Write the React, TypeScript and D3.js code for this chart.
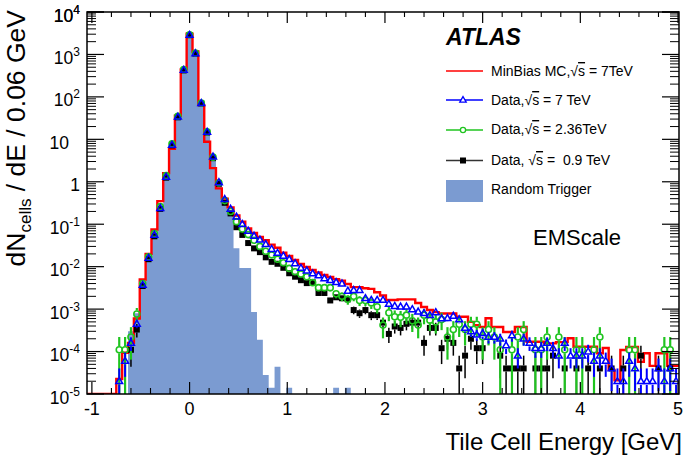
import React from 'react';
import * as d3 from 'd3';

const N = null;
// bin centres: 0.06 GeV bins from -1.02 to 4.98 GeV
const BIN_START = -1.02;
const BIN_WIDTH = 0.06;
const NBINS = 101;
const binCenters = d3.range(NBINS).map((i) => +(BIN_START + i * BIN_WIDTH).toFixed(2));

const mcMinBias7: (number | null)[] = [
  N, N, N, N, N, 2.25e-5, 9.4e-5, 1.6e-4, 6e-4, 5e-3,
  0.02, 0.075, 0.35, 1.6, 6, 36, 445, 3100, 1170, 64,
  8.8, 2.1, 0.7, 0.4, 0.25, 0.16, 0.115, 0.08, 0.062, 0.05,
  0.042, 0.033, 0.028, 0.0213, 0.0178, 0.0144, 0.0116, 0.0098, 0.0084, 0.0073,
  0.0064, 0.0057, 0.0051, 0.0047, 0.0039, 0.0033, 0.0033, 0.0031, 0.003, 0.0025,
  0.0021, 0.00164, 0.00164, 0.0017, 0.0017, 0.0017, 0.00139, 0.00112, 0.00095, 0.00085,
  0.00079, 0.00079, 0.00079, 0.00066, 0.00066, 0.0005, 0.00042, 0.00038, 0.00061, 0.00038,
  0.00038, 0.00029, 0.00029, 0.00038, 0.00038, 0.00017, 0.00017, 0.00017, 0.000156, 0.000156,
  0.000167, 0.000167, 0.000205, 0.00013, 0.00013, 0.00013, 0.00013, 9.1e-5, 0.000121, 3.7e-5,
  2.1e-5, 0.000109, 0.000128, 0.000128, 5.7e-5, 9.1e-5, 4.6e-5, 9.1e-5, 9.1e-5, 4.6e-5,
  4.6e-5,
];

const data7TeV: (number | null)[] = [
  N, N, N, N, N, 2e-5, 6e-5, 1.6e-4, 4.5e-4, 3.7e-3,
  0.016, 0.056, 0.24, 1.3, 7.4, 34, 430, 2870, 1060, 71,
  15, 3.9, 0.97, 0.39, 0.23, 0.15, 0.1, 0.07, 0.053, 0.043,
  0.034, 0.026, 0.021, 0.018, 0.015, 0.012, 0.0093, 0.0081, 0.0069, 0.0062,
  0.0053, 0.0048, 0.0043, 0.004, 0.0027, 0.0028, 0.0028, 0.0018, 0.00164, 0.00164,
  0.00164, 0.00132, 0.00118, 0.00114, 0.00114, 0.00099, 0.00087, 0.0008, 0.00072, 0.00084,
  0.0006, 0.00061, 0.00069, 0.00057, 0.00036, 0.0003, 0.00025, 0.00027, 0.00022, 0.00022,
  0.0002, 0.00014, 0.00024, 8e-5, 0.0002, 0.00016, 0.00012, 0.00012, 0.00016, 0.00012,
  8e-5, 0.00016, 8e-5, 8e-5, 8e-5, 1e-4, 6e-5, 8e-5, 6e-5, 4e-5,
  2e-5, 2e-5, 6e-5, 4e-5, 2e-5, 2e-5, 2e-5, 4e-5, 2e-5, 4e-5,
  2e-5,
];

const data236TeV: (number | null)[] = [
  N, N, N, N, N, 1.1e-4, 1.1e-4, 2.2e-4, 7.7e-4, 4e-3,
  0.017, 0.06, 0.26, 1.4, 7.8, 35, 440, 2900, 1080, 72,
  15, 3.8, 0.95, 0.36, 0.2, 0.115, 0.077, 0.057, 0.042, 0.03,
  0.023, 0.019, 0.015, 0.0124, 0.0091, 0.0076, 0.0067, 0.0058, 0.0042, 0.0032,
  0.0032, 0.0032, 0.0023, 0.002, 0.0017, 0.002, 0.0016, 0.0016, 0.0014, 0.00114,
  0.00042, 0.00082, 0.00066, 0.00064, 0.00072, 0.00053, 0.00042, 0.00072, 0.00055, 0.0005,
  0.00057, 0.00022, 0.00033, 0.00044, 0.00033, 0.00044, 0.00044, 0.00022, 0.00033, 0.00022,
  0.00011, N, 0.00011, 0.00022, 0.00033, N, 0.00011, 0.00011, 0.00022, N,
  0.00022, 0.00011, N, 0.00011, 0.00011, N, 0.00011, 0.00022, N, N,
  N, N, 0.00011, 0.00011, N, N, N, N, 0.00011, 0.00011,
  N,
];

const data09TeV: (number | null)[] = [
  N, N, N, N, N, N, N, 1.1e-4, 3.3e-4, 3.5e-3,
  0.015, 0.052, 0.23, 1.25, 7.2, 33, 420, 2850, 1040, 70,
  14.5, 3.6, 0.9, 0.32, 0.18, 0.085, 0.056, 0.036, 0.027, 0.022,
  0.0166, 0.013, 0.0117, 0.0094, 0.007, 0.0058, 0.0048, 0.0041, 0.0043, 0.0024,
  0.0024, 0.0016, 0.0019, 0.0018, 0.0017, 0.00095, 0.0008, 0.00095, 0.00072, 0.00072,
  0.00048, 0.00026, 0.00039, 0.00036, 0.00045, 0.00048, 0.00048, 0.00016, 0.00036, 0.00036,
  0.00012, 0.0002, 0.00016, 4e-5, 8e-5, 0.0002, 0.00012, 0.00012, N, N,
  8e-5, 4e-5, 4e-5, 4e-5, 4e-5, N, 4e-5, 4e-5, 4e-5, 8e-5,
  N, 4e-5, N, 4e-5, N, 4e-5, N, 4e-5, N, 4e-5,
  N, 4e-5, N, N, 8e-5, N, N, 4e-5, N, 4e-5,
  N,
];

const randomTrigger: (number | null)[] = [
  N, N, N, N, N, N, N, 3e-4, 8e-4, 4.5e-3,
  0.017, 0.06, 0.25, 1.3, 7.2, 34, 430, 2900, 1080, 70,
  15, 3.9, 0.99, 0.37, 0.18, 0.027, 0.0093, 0.0093, 8.5e-4, 1.9e-4,
  2.8e-5, 1.4e-5, 4.4e-5, N, 1.4e-5, N, N, N, N, N,
  N, N, 1.4e-5, N, 1.4e-5, N, N, N, N, N,
  N, N, N, N, N, N, N, N, N, N,
  N, N, N, N, N, N, N, N, N, N,
  N, N, N, N, N, N, N, N, N, N,
  N, N, N, N, N, N, N, N, N, N,
  N, N, N, N, N, N, N, N, N, N,
  N,
];

// value corresponding to a single entry for each data sample (for Poisson error bars)
const countUnit7 = 2e-5;
const countUnit236 = 1.1e-4;
const countUnit09 = 4e-5;

const xMajorTicks = [-1, 0, 1, 2, 3, 4, 5];
const yExponents = d3.range(-5, 5);

const FONT = '"Liberation Sans", Arial, Helvetica, sans-serif';
const RED = '#ff0000';
const BLUE = '#0000ff';
const GREEN = '#1fc41f';
const FILL = '#7b9bd1';

export default function App() {
  const W = 685;
  const H = 458;
  const left = 87, right = 679, top = 12, bottom = 394;
  const x = d3.scaleLinear().domain([-1.05, 5.01]).range([left, right]);
  const y = d3.scaleLog().domain([1e-5, 1e4]).range([bottom, top]);
  const yMin = 1e-5;
  const half = BIN_WIDTH / 2;

  const edgePts = (vals: (number | null)[]) => {
    const pts: [number, number][] = [];
    vals.forEach((v, i) => {
      const c = binCenters[i];
      const vv = v == null || v <= 0 ? yMin : Math.max(v, yMin);
      pts.push([c - half, vv], [c + half, vv]);
    });
    return pts;
  };

  const stepLine = d3.line<[number, number]>().x((d) => x(d[0])).y((d) => y(d[1]));
  const stepArea = d3
    .area<[number, number]>()
    .x((d) => x(d[0]))
    .y0(bottom)
    .y1((d) => y(d[1]));

  const xMinor = d3.range(-1, 5.001, 0.2).map((v) => +v.toFixed(2)).filter((v) => !xMajorTicks.includes(v));
  const yMinor: number[] = [];
  for (let k = -5; k < 4; k++) for (let m = 2; m <= 9; m++) yMinor.push(m * Math.pow(10, k));

  const errBars = (vals: (number | null)[], unit: number, color: string, width: number, gap: number) =>
    vals.map((v, i) => {
      if (v == null) return null;
      const err = Math.sqrt(v * unit);
      const cx = x(binCenters[i]);
      const cy = y(v);
      const yTop = y(v + err);
      const yBot = v - err > yMin ? y(v - err) : bottom;
      return (
        <g key={`e${i}`}>
          {cy - gap > yTop && <line x1={cx} x2={cx} y1={yTop} y2={cy - gap} stroke={color} strokeWidth={width} />}
          {yBot > cy + gap && <line x1={cx} x2={cx} y1={cy + gap} y2={yBot} stroke={color} strokeWidth={width} />}
        </g>
      );
    });

  const tri = (cx: number, cy: number, s: number) =>
    `M${cx},${cy - s}L${cx + s * 0.95},${cy + s * 0.65}L${cx - s * 0.95},${cy + s * 0.65}Z`;

  const sqrtS = (
    <>
      <tspan>√</tspan>
      <tspan style={{ textDecoration: 'overline' }}>s</tspan>
    </>
  );

  const legendX0 = 446, legendX1 = 483, legendText = 491;
  const LF = 14;

  return (
    <svg width={W} height={H} style={{ position: 'absolute', left: 0, top: 0, background: '#fff' }} fontFamily={FONT}>
      <defs>
        <clipPath id="plot">
          <rect x={left} y={top} width={right - left} height={bottom - top} />
        </clipPath>
      </defs>
      <rect x={0} y={0} width={W} height={H} fill="#fff" />
      <g clipPath="url(#plot)">
        <path d={stepArea(edgePts(randomTrigger)) || ''} fill={FILL} stroke="none" />
        <path d={stepLine(edgePts(mcMinBias7)) || ''} fill="none" stroke={RED} strokeWidth={2.4} />
        {/* 0.9 TeV data */}
        {errBars(data09TeV, countUnit09, '#000', 1.5, 3)}
        {data09TeV.map((v, i) =>
          v == null ? null : (
            <rect key={`b${i}`} x={x(binCenters[i]) - 3} y={y(v) - 3} width={6} height={6} fill="#000" />
          )
        )}
        {/* 2.36 TeV data */}
        {errBars(data236TeV, countUnit236, GREEN, 2.2, 3.5)}
        {data236TeV.map((v, i) =>
          v == null ? null : (
            <circle key={`g${i}`} cx={x(binCenters[i])} cy={y(v)} r={3} fill="none" stroke={GREEN} strokeWidth={1.6} />
          )
        )}
        {/* 7 TeV data */}
        {errBars(data7TeV, countUnit7, BLUE, 2, 3.5)}
        {data7TeV.map((v, i) =>
          v == null ? null : (
            <path key={`t${i}`} d={tri(x(binCenters[i]), y(v), 3.6)} fill="none" stroke={BLUE} strokeWidth={1.5} />
          )
        )}
      </g>

      {/* frame */}
      <rect x={left} y={top} width={right - left} height={bottom - top} fill="none" stroke="#000" strokeWidth={1.5} />

      {/* x ticks */}
      {xMajorTicks.map((t) => (
        <g key={`xt${t}`}>
          <line x1={x(t)} x2={x(t)} y1={bottom} y2={bottom - 12} stroke="#000" strokeWidth={1.2} />
          <line x1={x(t)} x2={x(t)} y1={top} y2={top + 11} stroke="#000" strokeWidth={1.2} />
          <text x={x(t)} y={415} fontSize={18} textAnchor="middle">
            {t < 0 ? `-${Math.abs(t)}` : `${t}`}
          </text>
        </g>
      ))}
      {xMinor.map((t) => (
        <g key={`xm${t}`}>
          <line x1={x(t)} x2={x(t)} y1={bottom} y2={bottom - 6} stroke="#000" strokeWidth={1.1} />
          <line x1={x(t)} x2={x(t)} y1={top} y2={top + 5} stroke="#000" strokeWidth={1.1} />
        </g>
      ))}

      {/* y ticks */}
      {yExponents.concat([4]).map((k) => {
        const v = Math.pow(10, k);
        return (
          <g key={`yt${k}`}>
            <line x1={left} x2={left + 17} y1={y(v)} y2={y(v)} stroke="#000" strokeWidth={1.2} />
            <line x1={right} x2={right - 17} y1={y(v)} y2={y(v)} stroke="#000" strokeWidth={1.2} />
          </g>
        );
      })}
      {yMinor.map((v, i) => (
        <g key={`ym${i}`}>
          <line x1={left} x2={left + 9} y1={y(v)} y2={y(v)} stroke="#000" strokeWidth={1} />
          <line x1={right} x2={right - 9} y1={y(v)} y2={y(v)} stroke="#000" strokeWidth={1} />
        </g>
      ))}
      {yExponents.concat([4]).map((k) => {
        const ty = y(Math.pow(10, k)) + 9.5;
        if (k === 0)
          return (
            <text key={`yl${k}`} x={80} y={ty} fontSize={17.5} textAnchor="end">
              1
            </text>
          );
        if (k === 1)
          return (
            <text key={`yl${k}`} x={69} y={ty} fontSize={17.5} textAnchor="end">
              10
            </text>
          );
        return (
          <text key={`yl${k}`} x={80} y={ty} fontSize={17.5} textAnchor="end">
            <tspan>10</tspan>
            <tspan dy={-8} fontSize={12}>
              {k < 0 ? `-${-k}` : `${k}`}
            </tspan>
          </text>
        );
      })}

      {/* axis titles */}
      <text x={682} y={450} fontSize={24} textAnchor="end">
        Tile Cell Energy [GeV]
      </text>
      <text transform="translate(25,10) rotate(-90)" fontSize={26.5} textAnchor="end">
        <tspan>dN</tspan>
        <tspan dy={6} fontSize={17}>
          cells
        </tspan>
        <tspan dy={-6}> / dE / 0.06 GeV</tspan>
      </text>

      {/* ATLAS label and legend */}
      <text x={446} y={45} fontSize={23} fontWeight="bold" fontStyle="italic">
        ATLAS
      </text>
      <line x1={legendX0} x2={legendX1} y1={71} y2={71} stroke={RED} strokeWidth={1.6} />
      <text x={legendText} y={76} fontSize={LF}>
        MinBias MC,{sqrtS} = 7TeV
      </text>
      <line x1={legendX0} x2={legendX1} y1={100} y2={100} stroke={BLUE} strokeWidth={1.6} />
      <path d={tri(463, 100, 3.4)} fill="#fff" stroke={BLUE} strokeWidth={1.3} />
      <text x={legendText} y={105} fontSize={LF}>
        Data,{sqrtS} = 7 TeV
      </text>
      <line x1={legendX0} x2={legendX1} y1={130} y2={130} stroke={GREEN} strokeWidth={1.6} />
      <circle cx={463} cy={130} r={2.6} fill="#fff" stroke={GREEN} strokeWidth={1.3} />
      <text x={legendText} y={134} fontSize={LF}>
        Data,{sqrtS} = 2.36TeV
      </text>
      <line x1={legendX0} x2={legendX1} y1={160.5} y2={160.5} stroke="#333" strokeWidth={1.6} />
      <rect x={460} y={157.5} width={6} height={6} fill="#000" />
      <text x={legendText} y={165} fontSize={LF} style={{ whiteSpace: 'pre' }}>
        Data, {sqrtS} = {'\u00a0'}0.9 TeV
      </text>
      <rect x={legendX0} y={180} width={legendX1 - legendX0} height={22} fill={FILL} />
      <text x={legendText} y={194} fontSize={LF}>
        Random Trigger
      </text>

      <text x={533} y={245} fontSize={22}>
        EMScale
      </text>
    </svg>
  );
}
